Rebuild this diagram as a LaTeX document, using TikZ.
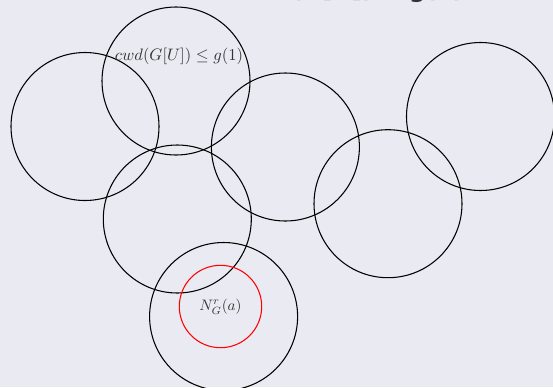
\documentclass[tikz,border=0pt]{standalone}
\usepackage{fontspec}
\newfontfamily\titlefont{DejaVu Sans}
\definecolor{bgc}{HTML}{EAEAF2}
\definecolor{txt}{HTML}{333333}
\begin{document}
\begin{tikzpicture}[x=0.66pt,y=-0.66pt,
  ring/.style={draw=black,line width=0.7pt},
  redring/.style={draw=red,line width=0.7pt},
  lbl/.style={text=txt,inner sep=0pt}]
\fill[bgc] (0,0) rectangle (553,387);
\useasboundingbox (0,0) rectangle (553,387);
\begin{scope}
\clip (0,0) rectangle (553,387);
\node[anchor=base east,inner sep=0pt,text=txt,font=\titlefont\bfseries\fontsize{15.5}{18}\selectfont] (title) at (464,-2.5) {cwd(G[U]) ≤ g(1)};
\draw[ring] (85,126.5) circle[radius=74*0.66pt];
\draw[ring] (176,81) circle[radius=74*0.66pt];
\draw[ring] (177.3,219) circle[radius=74*0.66pt];
\draw[ring] (285.4,147) circle[radius=74*0.66pt];
\draw[ring] (388,203.7) circle[radius=74*0.66pt];
\draw[ring] (480.5,116.5) circle[radius=74*0.66pt];
\draw[ring] (223.6,316.5) circle[radius=74*0.66pt];
\draw[redring] (220.5,306.5) circle[radius=41.2*0.66pt];
\end{scope}
\node[lbl,font=\fontsize{10.7}{12}\selectfont] (cwd) at (179,56) {$cwd(G[U]) \leq g(1)$};
\node[lbl] (nbr) at (220.5,306.5) {$N_G^r(a)$};
\end{tikzpicture}
\end{document}
